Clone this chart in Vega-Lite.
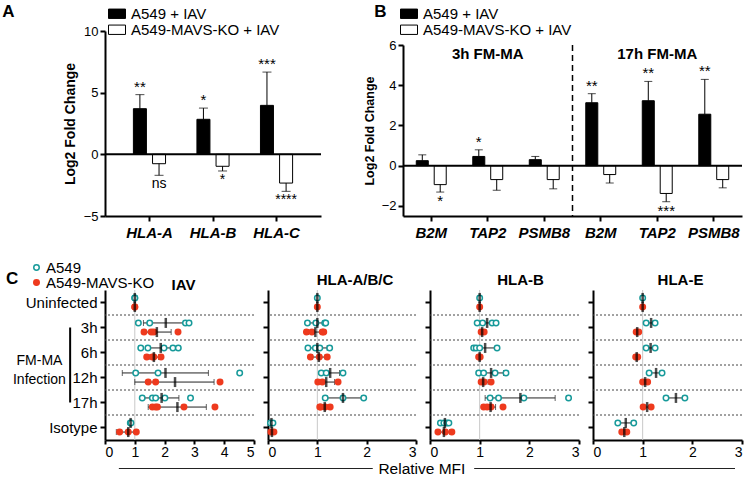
{
"$schema": "https://vega.github.io/schema/vega-lite/v6.json",
"padding": {"left": 2, "top": 3, "right": 2, "bottom": 0},
"config": {
  "font": "Liberation Sans",
  "view": {"stroke": null},
  "axis": {"domainColor": "black", "domainWidth": 2, "tickColor": "black", "tickWidth": 2, "tickSize": 5, "labelColor": "black", "titleColor": "black", "grid": false, "labelOverlap": false},
  "legend": {"labelColor": "black"},
  "title": {"color": "black"}
},
"datasets": {
  "barsA": [
    {"gene": "HLA-A", "group": "A549 + IAV", "value": 3.7, "err": 4.84, "sig": "**"},
    {"gene": "HLA-A", "group": "A549-MAVS-KO + IAV", "value": -0.76, "err": -1.7, "sig": "ns"},
    {"gene": "HLA-B", "group": "A549 + IAV", "value": 2.84, "err": 3.75, "sig": "*"},
    {"gene": "HLA-B", "group": "A549-MAVS-KO + IAV", "value": -0.97, "err": -1.35, "sig": "*"},
    {"gene": "HLA-C", "group": "A549 + IAV", "value": 3.97, "err": 6.67, "sig": "***"},
    {"gene": "HLA-C", "group": "A549-MAVS-KO + IAV", "value": -2.33, "err": -3.0, "sig": "****"}
  ],
  "barsB": [
    {"key": "3h|B2M", "group": "A549 + IAV", "value": 0.25, "err": 0.54, "sig": ""},
    {"key": "3h|B2M", "group": "A549-MAVS-KO + IAV", "value": -0.94, "err": -1.31, "sig": "*"},
    {"key": "3h|TAP2", "group": "A549 + IAV", "value": 0.46, "err": 0.79, "sig": "*"},
    {"key": "3h|TAP2", "group": "A549-MAVS-KO + IAV", "value": -0.69, "err": -1.22, "sig": ""},
    {"key": "3h|PSMB8", "group": "A549 + IAV", "value": 0.3, "err": 0.46, "sig": ""},
    {"key": "3h|PSMB8", "group": "A549-MAVS-KO + IAV", "value": -0.69, "err": -1.15, "sig": ""},
    {"key": "17h|B2M", "group": "A549 + IAV", "value": 3.13, "err": 3.58, "sig": "**"},
    {"key": "17h|B2M", "group": "A549-MAVS-KO + IAV", "value": -0.44, "err": -0.86, "sig": ""},
    {"key": "17h|TAP2", "group": "A549 + IAV", "value": 3.23, "err": 4.19, "sig": "**"},
    {"key": "17h|TAP2", "group": "A549-MAVS-KO + IAV", "value": -1.38, "err": -1.79, "sig": "***"},
    {"key": "17h|PSMB8", "group": "A549 + IAV", "value": 2.56, "err": 4.29, "sig": "**"},
    {"key": "17h|PSMB8", "group": "A549-MAVS-KO + IAV", "value": -0.69, "err": -1.1, "sig": ""}
  ],
  "points": [
    {"panel": "IAV", "row": "Uninfected", "cell": "A549", "v": 1},
    {"panel": "IAV", "row": "Uninfected", "cell": "A549", "v": 1},
    {"panel": "IAV", "row": "Uninfected", "cell": "A549-MAVS-KO", "v": 1},
    {"panel": "IAV", "row": "Uninfected", "cell": "A549-MAVS-KO", "v": 1},
    {"panel": "IAV", "row": "3h", "cell": "A549", "v": 1.12},
    {"panel": "IAV", "row": "3h", "cell": "A549", "v": 1.5},
    {"panel": "IAV", "row": "3h", "cell": "A549", "v": 2.7},
    {"panel": "IAV", "row": "3h", "cell": "A549", "v": 2.82},
    {"panel": "IAV", "row": "3h", "cell": "A549-MAVS-KO", "v": 1.31},
    {"panel": "IAV", "row": "3h", "cell": "A549-MAVS-KO", "v": 1.55},
    {"panel": "IAV", "row": "3h", "cell": "A549-MAVS-KO", "v": 1.64},
    {"panel": "IAV", "row": "3h", "cell": "A549-MAVS-KO", "v": 2.45},
    {"panel": "IAV", "row": "6h", "cell": "A549", "v": 1.2},
    {"panel": "IAV", "row": "6h", "cell": "A549", "v": 1.44},
    {"panel": "IAV", "row": "6h", "cell": "A549", "v": 1.98},
    {"panel": "IAV", "row": "6h", "cell": "A549", "v": 2.28},
    {"panel": "IAV", "row": "6h", "cell": "A549", "v": 2.46},
    {"panel": "IAV", "row": "6h", "cell": "A549-MAVS-KO", "v": 1.4},
    {"panel": "IAV", "row": "6h", "cell": "A549-MAVS-KO", "v": 1.59},
    {"panel": "IAV", "row": "6h", "cell": "A549-MAVS-KO", "v": 1.64},
    {"panel": "IAV", "row": "6h", "cell": "A549-MAVS-KO", "v": 1.88},
    {"panel": "IAV", "row": "12h", "cell": "A549", "v": 1.03},
    {"panel": "IAV", "row": "12h", "cell": "A549", "v": 1.78},
    {"panel": "IAV", "row": "12h", "cell": "A549", "v": 4.52},
    {"panel": "IAV", "row": "12h", "cell": "A549-MAVS-KO", "v": 1.45},
    {"panel": "IAV", "row": "12h", "cell": "A549-MAVS-KO", "v": 1.7},
    {"panel": "IAV", "row": "12h", "cell": "A549-MAVS-KO", "v": 3.86},
    {"panel": "IAV", "row": "17h", "cell": "A549", "v": 1.25},
    {"panel": "IAV", "row": "17h", "cell": "A549", "v": 1.59},
    {"panel": "IAV", "row": "17h", "cell": "A549", "v": 1.7},
    {"panel": "IAV", "row": "17h", "cell": "A549", "v": 2.01},
    {"panel": "IAV", "row": "17h", "cell": "A549", "v": 2.87},
    {"panel": "IAV", "row": "17h", "cell": "A549-MAVS-KO", "v": 1.59},
    {"panel": "IAV", "row": "17h", "cell": "A549-MAVS-KO", "v": 1.7},
    {"panel": "IAV", "row": "17h", "cell": "A549-MAVS-KO", "v": 1.76},
    {"panel": "IAV", "row": "17h", "cell": "A549-MAVS-KO", "v": 2.65},
    {"panel": "IAV", "row": "17h", "cell": "A549-MAVS-KO", "v": 3.69},
    {"panel": "IAV", "row": "Isotype", "cell": "A549", "v": 0.85},
    {"panel": "IAV", "row": "Isotype", "cell": "A549", "v": 0.87},
    {"panel": "IAV", "row": "Isotype", "cell": "A549-MAVS-KO", "v": 0.49},
    {"panel": "IAV", "row": "Isotype", "cell": "A549-MAVS-KO", "v": 0.78},
    {"panel": "IAV", "row": "Isotype", "cell": "A549-MAVS-KO", "v": 1.05},

    {"panel": "ABC", "row": "Uninfected", "cell": "A549", "v": 1},
    {"panel": "ABC", "row": "Uninfected", "cell": "A549-MAVS-KO", "v": 1},
    {"panel": "ABC", "row": "3h", "cell": "A549", "v": 0.8},
    {"panel": "ABC", "row": "3h", "cell": "A549", "v": 0.97},
    {"panel": "ABC", "row": "3h", "cell": "A549", "v": 1.15},
    {"panel": "ABC", "row": "3h", "cell": "A549", "v": 1.17},
    {"panel": "ABC", "row": "3h", "cell": "A549-MAVS-KO", "v": 0.78},
    {"panel": "ABC", "row": "3h", "cell": "A549-MAVS-KO", "v": 0.89},
    {"panel": "ABC", "row": "3h", "cell": "A549-MAVS-KO", "v": 1.1},
    {"panel": "ABC", "row": "3h", "cell": "A549-MAVS-KO", "v": 1.13},
    {"panel": "ABC", "row": "6h", "cell": "A549", "v": 0.81},
    {"panel": "ABC", "row": "6h", "cell": "A549", "v": 0.96},
    {"panel": "ABC", "row": "6h", "cell": "A549", "v": 1.05},
    {"panel": "ABC", "row": "6h", "cell": "A549", "v": 1.25},
    {"panel": "ABC", "row": "6h", "cell": "A549-MAVS-KO", "v": 0.86},
    {"panel": "ABC", "row": "6h", "cell": "A549-MAVS-KO", "v": 1.04},
    {"panel": "ABC", "row": "6h", "cell": "A549-MAVS-KO", "v": 1.2},
    {"panel": "ABC", "row": "12h", "cell": "A549", "v": 1.08},
    {"panel": "ABC", "row": "12h", "cell": "A549", "v": 1.18},
    {"panel": "ABC", "row": "12h", "cell": "A549", "v": 1.52},
    {"panel": "ABC", "row": "12h", "cell": "A549-MAVS-KO", "v": 1.01},
    {"panel": "ABC", "row": "12h", "cell": "A549-MAVS-KO", "v": 1.1},
    {"panel": "ABC", "row": "12h", "cell": "A549-MAVS-KO", "v": 1.42},
    {"panel": "ABC", "row": "17h", "cell": "A549", "v": 1.16},
    {"panel": "ABC", "row": "17h", "cell": "A549", "v": 1.52},
    {"panel": "ABC", "row": "17h", "cell": "A549", "v": 1.94},
    {"panel": "ABC", "row": "17h", "cell": "A549-MAVS-KO", "v": 1.05},
    {"panel": "ABC", "row": "17h", "cell": "A549-MAVS-KO", "v": 1.07},
    {"panel": "ABC", "row": "17h", "cell": "A549-MAVS-KO", "v": 1.16},
    {"panel": "ABC", "row": "17h", "cell": "A549-MAVS-KO", "v": 1.26},
    {"panel": "ABC", "row": "Isotype", "cell": "A549", "v": 0.05},
    {"panel": "ABC", "row": "Isotype", "cell": "A549", "v": 0.1},
    {"panel": "ABC", "row": "Isotype", "cell": "A549-MAVS-KO", "v": 0.06},
    {"panel": "ABC", "row": "Isotype", "cell": "A549-MAVS-KO", "v": 0.12},

    {"panel": "B", "row": "Uninfected", "cell": "A549", "v": 1},
    {"panel": "B", "row": "Uninfected", "cell": "A549-MAVS-KO", "v": 1},
    {"panel": "B", "row": "3h", "cell": "A549", "v": 0.95},
    {"panel": "B", "row": "3h", "cell": "A549", "v": 1.06},
    {"panel": "B", "row": "3h", "cell": "A549", "v": 1.25},
    {"panel": "B", "row": "3h", "cell": "A549", "v": 1.33},
    {"panel": "B", "row": "3h", "cell": "A549-MAVS-KO", "v": 1.03},
    {"panel": "B", "row": "3h", "cell": "A549-MAVS-KO", "v": 1.09},
    {"panel": "B", "row": "6h", "cell": "A549", "v": 0.88},
    {"panel": "B", "row": "6h", "cell": "A549", "v": 0.93},
    {"panel": "B", "row": "6h", "cell": "A549", "v": 1.0},
    {"panel": "B", "row": "6h", "cell": "A549", "v": 1.35},
    {"panel": "B", "row": "6h", "cell": "A549-MAVS-KO", "v": 0.98},
    {"panel": "B", "row": "6h", "cell": "A549-MAVS-KO", "v": 1.01},
    {"panel": "B", "row": "12h", "cell": "A549", "v": 0.98},
    {"panel": "B", "row": "12h", "cell": "A549", "v": 1.08},
    {"panel": "B", "row": "12h", "cell": "A549", "v": 1.31},
    {"panel": "B", "row": "12h", "cell": "A549", "v": 1.53},
    {"panel": "B", "row": "12h", "cell": "A549-MAVS-KO", "v": 1.03},
    {"panel": "B", "row": "12h", "cell": "A549-MAVS-KO", "v": 1.09},
    {"panel": "B", "row": "12h", "cell": "A549-MAVS-KO", "v": 1.23},
    {"panel": "B", "row": "17h", "cell": "A549", "v": 1.21},
    {"panel": "B", "row": "17h", "cell": "A549", "v": 1.38},
    {"panel": "B", "row": "17h", "cell": "A549", "v": 1.89},
    {"panel": "B", "row": "17h", "cell": "A549", "v": 2.79},
    {"panel": "B", "row": "17h", "cell": "A549-MAVS-KO", "v": 1.08},
    {"panel": "B", "row": "17h", "cell": "A549-MAVS-KO", "v": 1.15},
    {"panel": "B", "row": "17h", "cell": "A549-MAVS-KO", "v": 1.23},
    {"panel": "B", "row": "17h", "cell": "A549-MAVS-KO", "v": 1.47},
    {"panel": "B", "row": "Isotype", "cell": "A549", "v": 0.21},
    {"panel": "B", "row": "Isotype", "cell": "A549", "v": 0.28},
    {"panel": "B", "row": "Isotype", "cell": "A549", "v": 0.34},
    {"panel": "B", "row": "Isotype", "cell": "A549", "v": 0.38},
    {"panel": "B", "row": "Isotype", "cell": "A549-MAVS-KO", "v": 0.16},
    {"panel": "B", "row": "Isotype", "cell": "A549-MAVS-KO", "v": 0.31},
    {"panel": "B", "row": "Isotype", "cell": "A549-MAVS-KO", "v": 0.44},

    {"panel": "E", "row": "Uninfected", "cell": "A549", "v": 1},
    {"panel": "E", "row": "Uninfected", "cell": "A549-MAVS-KO", "v": 1},
    {"panel": "E", "row": "3h", "cell": "A549", "v": 1.07},
    {"panel": "E", "row": "3h", "cell": "A549", "v": 1.25},
    {"panel": "E", "row": "3h", "cell": "A549-MAVS-KO", "v": 0.87},
    {"panel": "E", "row": "3h", "cell": "A549-MAVS-KO", "v": 0.92},
    {"panel": "E", "row": "6h", "cell": "A549", "v": 1.07},
    {"panel": "E", "row": "6h", "cell": "A549", "v": 1.25},
    {"panel": "E", "row": "6h", "cell": "A549-MAVS-KO", "v": 0.86},
    {"panel": "E", "row": "6h", "cell": "A549-MAVS-KO", "v": 0.9},
    {"panel": "E", "row": "12h", "cell": "A549", "v": 1.13},
    {"panel": "E", "row": "12h", "cell": "A549", "v": 1.39},
    {"panel": "E", "row": "12h", "cell": "A549-MAVS-KO", "v": 1.0},
    {"panel": "E", "row": "12h", "cell": "A549-MAVS-KO", "v": 1.1},
    {"panel": "E", "row": "17h", "cell": "A549", "v": 1.47},
    {"panel": "E", "row": "17h", "cell": "A549", "v": 1.85},
    {"panel": "E", "row": "17h", "cell": "A549-MAVS-KO", "v": 1.01},
    {"panel": "E", "row": "17h", "cell": "A549-MAVS-KO", "v": 1.17},
    {"panel": "E", "row": "Isotype", "cell": "A549", "v": 0.5},
    {"panel": "E", "row": "Isotype", "cell": "A549", "v": 0.82},
    {"panel": "E", "row": "Isotype", "cell": "A549-MAVS-KO", "v": 0.58},
    {"panel": "E", "row": "Isotype", "cell": "A549-MAVS-KO", "v": 0.68}
  ],
  "summary": [
    {"panel": "IAV", "row": "Uninfected", "cell": "A549", "mean": 1, "lo": 1, "hi": 1},
    {"panel": "IAV", "row": "Uninfected", "cell": "A549-MAVS-KO", "mean": 1, "lo": 1, "hi": 1},
    {"panel": "IAV", "row": "3h", "cell": "A549", "mean": 2.04, "lo": 1.29, "hi": 2.76},
    {"panel": "IAV", "row": "3h", "cell": "A549-MAVS-KO", "mean": 1.74, "lo": 1.25, "hi": 2.22},
    {"panel": "IAV", "row": "6h", "cell": "A549", "mean": 1.87, "lo": 1.4, "hi": 2.3},
    {"panel": "IAV", "row": "6h", "cell": "A549-MAVS-KO", "mean": 1.64, "lo": 1.48, "hi": 1.8},
    {"panel": "IAV", "row": "12h", "cell": "A549", "mean": 2.03, "lo": 0.58, "hi": 3.47},
    {"panel": "IAV", "row": "12h", "cell": "A549-MAVS-KO", "mean": 2.35, "lo": 1.0, "hi": 3.66},
    {"panel": "IAV", "row": "17h", "cell": "A549", "mean": 1.9, "lo": 1.28, "hi": 2.48},
    {"panel": "IAV", "row": "17h", "cell": "A549-MAVS-KO", "mean": 2.43, "lo": 1.45, "hi": 3.4},
    {"panel": "IAV", "row": "Isotype", "cell": "A549", "mean": 0.86, "lo": 0.84, "hi": 0.88},
    {"panel": "IAV", "row": "Isotype", "cell": "A549-MAVS-KO", "mean": 0.78, "lo": 0.38, "hi": 1.08},
    {"panel": "ABC", "row": "Uninfected", "cell": "A549", "mean": 1, "lo": 1, "hi": 1},
    {"panel": "ABC", "row": "Uninfected", "cell": "A549-MAVS-KO", "mean": 1, "lo": 1, "hi": 1},
    {"panel": "ABC", "row": "3h", "cell": "A549", "mean": 1.0, "lo": 0.82, "hi": 1.15},
    {"panel": "ABC", "row": "3h", "cell": "A549-MAVS-KO", "mean": 0.96, "lo": 0.82, "hi": 1.1},
    {"panel": "ABC", "row": "6h", "cell": "A549", "mean": 1.0, "lo": 0.84, "hi": 1.2},
    {"panel": "ABC", "row": "6h", "cell": "A549-MAVS-KO", "mean": 1.03, "lo": 0.9, "hi": 1.16},
    {"panel": "ABC", "row": "12h", "cell": "A549", "mean": 1.26, "lo": 1.1, "hi": 1.45},
    {"panel": "ABC", "row": "12h", "cell": "A549-MAVS-KO", "mean": 1.18, "lo": 1.0, "hi": 1.35},
    {"panel": "ABC", "row": "17h", "cell": "A549", "mean": 1.52, "lo": 1.16, "hi": 1.92},
    {"panel": "ABC", "row": "17h", "cell": "A549-MAVS-KO", "mean": 1.15, "lo": 1.05, "hi": 1.25},
    {"panel": "ABC", "row": "Isotype", "cell": "A549", "mean": 0.07, "lo": 0.05, "hi": 0.09},
    {"panel": "ABC", "row": "Isotype", "cell": "A549-MAVS-KO", "mean": 0.08, "lo": 0.06, "hi": 0.1},
    {"panel": "B", "row": "Uninfected", "cell": "A549", "mean": 1, "lo": 1, "hi": 1},
    {"panel": "B", "row": "Uninfected", "cell": "A549-MAVS-KO", "mean": 1, "lo": 1, "hi": 1},
    {"panel": "B", "row": "3h", "cell": "A549", "mean": 1.15, "lo": 0.97, "hi": 1.3},
    {"panel": "B", "row": "3h", "cell": "A549-MAVS-KO", "mean": 1.05, "lo": 1.03, "hi": 1.08},
    {"panel": "B", "row": "6h", "cell": "A549", "mean": 1.11, "lo": 0.86, "hi": 1.35},
    {"panel": "B", "row": "6h", "cell": "A549-MAVS-KO", "mean": 1.0, "lo": 0.99, "hi": 1.01},
    {"panel": "B", "row": "12h", "cell": "A549", "mean": 1.23, "lo": 1.0, "hi": 1.48},
    {"panel": "B", "row": "12h", "cell": "A549-MAVS-KO", "mean": 1.07, "lo": 1.0, "hi": 1.17},
    {"panel": "B", "row": "17h", "cell": "A549", "mean": 1.82, "lo": 1.11, "hi": 2.52},
    {"panel": "B", "row": "17h", "cell": "A549-MAVS-KO", "mean": 1.22, "lo": 1.1, "hi": 1.32},
    {"panel": "B", "row": "Isotype", "cell": "A549", "mean": 0.3, "lo": 0.22, "hi": 0.37},
    {"panel": "B", "row": "Isotype", "cell": "A549-MAVS-KO", "mean": 0.28, "lo": 0.18, "hi": 0.4},
    {"panel": "E", "row": "Uninfected", "cell": "A549", "mean": 1, "lo": 1, "hi": 1},
    {"panel": "E", "row": "Uninfected", "cell": "A549-MAVS-KO", "mean": 1, "lo": 1, "hi": 1},
    {"panel": "E", "row": "3h", "cell": "A549", "mean": 1.17, "lo": 1.08, "hi": 1.25},
    {"panel": "E", "row": "3h", "cell": "A549-MAVS-KO", "mean": 0.89, "lo": 0.87, "hi": 0.91},
    {"panel": "E", "row": "6h", "cell": "A549", "mean": 1.16, "lo": 1.08, "hi": 1.24},
    {"panel": "E", "row": "6h", "cell": "A549-MAVS-KO", "mean": 0.88, "lo": 0.86, "hi": 0.9},
    {"panel": "E", "row": "12h", "cell": "A549", "mean": 1.27, "lo": 1.14, "hi": 1.38},
    {"panel": "E", "row": "12h", "cell": "A549-MAVS-KO", "mean": 1.05, "lo": 1.0, "hi": 1.1},
    {"panel": "E", "row": "17h", "cell": "A549", "mean": 1.67, "lo": 1.48, "hi": 1.85},
    {"panel": "E", "row": "17h", "cell": "A549-MAVS-KO", "mean": 1.09, "lo": 1.02, "hi": 1.16},
    {"panel": "E", "row": "Isotype", "cell": "A549", "mean": 0.66, "lo": 0.51, "hi": 0.81},
    {"panel": "E", "row": "Isotype", "cell": "A549-MAVS-KO", "mean": 0.63, "lo": 0.6, "hi": 0.66}
  ],
  "seps": [{"row": "Uninfected"}, {"row": "3h"}, {"row": "6h"}, {"row": "12h"}, {"row": "17h"}]
},
"vconcat": [
  {
    "hconcat": [
      {
        "width": 216, "height": 185,
        "title": {"text": "A", "anchor": "start", "fontSize": 17, "fontWeight": "bold", "dx": -61, "dy": 19},
        "data": {"name": "barsA"},
        "layer": [
          {
            "mark": {"type": "bar", "stroke": "black", "strokeWidth": 1},
            "encoding": {
              "x": {"field": "gene", "type": "nominal", "sort": null, "title": null, "scale": {"paddingInner": 0, "paddingOuter": 0.2},
                    "axis": {"labelAngle": 0, "labelFontSize": 15, "labelFontWeight": "bold", "labelFontStyle": "italic", "labelPadding": 4}},
              "xOffset": {"field": "group", "type": "nominal", "sort": null, "scale": {"paddingInner": 0.32, "paddingOuter": 0.82}},
              "y": {"field": "value", "type": "quantitative", "title": "Log2 Fold Change", "scale": {"domain": [-5, 10], "nice": false},
                    "axis": {"title": "Log2 Fold Change", "values": [-5, 0, 5, 10], "labelFontSize": 13, "titleFontSize": 14, "titleFontWeight": "bold", "titlePadding": 6}},
              "fill": {"field": "group", "type": "nominal", "sort": null, "scale": {"domain": ["A549 + IAV", "A549-MAVS-KO + IAV"], "range": ["black", "white"]},
                       "legend": {"title": null, "orient": "none", "legendX": 3, "legendY": -25, "symbolType": "M-1,-0.55H1V0.55H-1Z", "symbolSize": 289, "symbolStrokeColor": "black", "symbolStrokeWidth": 1, "labelFontSize": 15, "labelOffset": 5, "rowPadding": 0, "clipHeight": 15.5}}
            }
          },
          {
            "mark": {"type": "rule", "color": "black", "strokeWidth": 1},
            "encoding": {
              "x": {"field": "gene", "type": "nominal", "sort": null, "title": null},
              "xOffset": {"field": "group", "type": "nominal", "sort": null},
              "y": {"field": "value", "type": "quantitative", "title": "Log2 Fold Change"},
              "y2": {"field": "err"}
            }
          },
          {
            "mark": {"type": "tick", "color": "black", "size": 9, "thickness": 1},
            "encoding": {
              "x": {"field": "gene", "type": "nominal", "sort": null, "title": null},
              "xOffset": {"field": "group", "type": "nominal", "sort": null},
              "y": {"field": "err", "type": "quantitative", "title": "Log2 Fold Change"}
            }
          },
          {
            "data": {"values": [{}]},
            "mark": {"type": "rule", "color": "black", "strokeWidth": 2},
            "encoding": {"y": {"datum": 0, "type": "quantitative", "title": "Log2 Fold Change"}}
          },
          {
            "transform": [{"filter": "datum.sig != '' && datum.value > 0"}],
            "mark": {"type": "text", "fontSize": 15, "baseline": "bottom", "dy": 0},
            "encoding": {
              "x": {"field": "gene", "type": "nominal", "sort": null, "title": null},
              "xOffset": {"field": "group", "type": "nominal", "sort": null},
              "y": {"field": "err", "type": "quantitative", "title": "Log2 Fold Change"},
              "text": {"field": "sig"}
            }
          },
          {
            "transform": [{"filter": "datum.sig != '' && datum.value < 0"}],
            "mark": {"type": "text", "fontSize": 14, "baseline": "top", "dy": 2},
            "encoding": {
              "x": {"field": "gene", "type": "nominal", "sort": null, "title": null},
              "xOffset": {"field": "group", "type": "nominal", "sort": null},
              "y": {"field": "err", "type": "quantitative", "title": "Log2 Fold Change"},
              "text": {"field": "sig"}
            }
          }
        ]
      },
      {
        "width": 339, "height": 185,
        "title": {"text": "B", "anchor": "start", "fontSize": 17, "fontWeight": "bold", "dx": 11, "dy": 19},
        "data": {"name": "barsB"},
        "layer": [
          {
            "mark": {"type": "bar", "stroke": "black", "strokeWidth": 1},
            "encoding": {
              "x": {"field": "key", "type": "nominal", "title": null, "scale": {"domain": ["3h|B2M", "3h|TAP2", "3h|PSMB8", "17h|B2M", "17h|TAP2", "17h|PSMB8"], "paddingInner": 0, "paddingOuter": 0},
                    "axis": {"labelAngle": 0, "labelFontSize": 15, "labelFontWeight": "bold", "labelFontStyle": "italic", "labelPadding": 4, "labelExpr": "split(datum.label, '|')[1]"}},
              "xOffset": {"field": "group", "type": "nominal", "sort": null, "scale": {"paddingInner": 0.33, "paddingOuter": 0.74}},
              "y": {"field": "value", "type": "quantitative", "title": "Log2 Fold Change", "scale": {"domain": [-2.5, 6], "nice": false, "range": [185, 14]},
                    "axis": {"title": "Log2 Fold Change", "values": [-2, 0, 2, 4, 6], "labelFontSize": 13, "titleFontSize": 12.5, "titleFontWeight": "bold", "titlePadding": 5}},
              "fill": {"field": "group", "type": "nominal", "sort": null, "scale": {"domain": ["A549 + IAV", "A549-MAVS-KO + IAV"], "range": ["black", "white"]},
                       "legend": {"title": null, "orient": "none", "legendX": -3, "legendY": -25, "symbolType": "M-1,-0.55H1V0.55H-1Z", "symbolSize": 289, "symbolStrokeColor": "black", "symbolStrokeWidth": 1, "labelFontSize": 15, "labelOffset": 5, "rowPadding": 0, "clipHeight": 15.5}}
            }
          },
          {
            "mark": {"type": "rule", "color": "black", "strokeWidth": 1},
            "encoding": {
              "x": {"field": "key", "type": "nominal", "title": null},
              "xOffset": {"field": "group", "type": "nominal", "sort": null},
              "y": {"field": "value", "type": "quantitative", "title": "Log2 Fold Change"},
              "y2": {"field": "err"}
            }
          },
          {
            "mark": {"type": "tick", "color": "black", "size": 8, "thickness": 1},
            "encoding": {
              "x": {"field": "key", "type": "nominal", "title": null},
              "xOffset": {"field": "group", "type": "nominal", "sort": null},
              "y": {"field": "err", "type": "quantitative", "title": "Log2 Fold Change"}
            }
          },
          {
            "data": {"values": [{}]},
            "mark": {"type": "rule", "color": "black", "strokeWidth": 2},
            "encoding": {"y": {"datum": 0, "type": "quantitative", "title": "Log2 Fold Change"}}
          },
          {
            "data": {"values": [{"key": "17h|B2M"}]},
            "mark": {"type": "rule", "color": "black", "strokeWidth": 1.5, "strokeDash": [6, 4]},
            "encoding": {
              "x": {"field": "key", "type": "nominal", "title": null, "bandPosition": 0},
              "y": {"datum": 6, "type": "quantitative", "title": "Log2 Fold Change"},
              "y2": {"datum": -2.5}
            }
          },
          {
            "data": {"values": [{"key": "3h|TAP2", "label": "3h FM-MA"}, {"key": "17h|TAP2", "label": "17h FM-MA"}]},
            "mark": {"type": "text", "fontSize": 15, "fontWeight": "bold", "baseline": "middle"},
            "encoding": {
              "x": {"field": "key", "type": "nominal", "title": null},
              "y": {"datum": 5.55, "type": "quantitative", "title": "Log2 Fold Change"},
              "text": {"field": "label"}
            }
          },
          {
            "transform": [{"filter": "datum.sig != '' && datum.value > 0"}],
            "mark": {"type": "text", "fontSize": 15, "baseline": "bottom", "dy": 0},
            "encoding": {
              "x": {"field": "key", "type": "nominal", "title": null},
              "xOffset": {"field": "group", "type": "nominal", "sort": null},
              "y": {"field": "err", "type": "quantitative", "title": "Log2 Fold Change"},
              "text": {"field": "sig"}
            }
          },
          {
            "transform": [{"filter": "datum.sig != '' && datum.value < 0"}],
            "mark": {"type": "text", "fontSize": 15, "baseline": "top", "dy": 2},
            "encoding": {
              "x": {"field": "key", "type": "nominal", "title": null},
              "xOffset": {"field": "group", "type": "nominal", "sort": null},
              "y": {"field": "err", "type": "quantitative", "title": "Log2 Fold Change"},
              "text": {"field": "sig"}
            }
          }
        ]
      }
    ],
    "spacing": 41,
    "resolve": {"scale": {"fill": "independent", "x": "independent", "y": "independent", "xOffset": "independent"}, "legend": {"fill": "independent"}}
  },
  {
    "vconcat": [
      {
        "title": {"text": "C", "anchor": "start", "fontSize": 17, "fontWeight": "bold", "dx": -7, "dy": 31},
        "hconcat": [
          {
            "width": 149, "height": 150,
            "title": {"text": "IAV", "fontSize": 15, "fontWeight": "bold", "dx": 4, "offset": 0, "dy": 32},
            "layer": [
              {
                "data": {"values": [{}]},
                "mark": {"type": "rule", "color": "#c8c8c8", "strokeWidth": 1},
                "encoding": {"x": {"datum": 1, "type": "quantitative", "title": null, "scale": {"domain": [0, 5], "nice": false}, "axis": {"values": [0, 1, 2, 3, 4, 5], "tickCount": 6, "labelFontSize": 14, "labelPadding": 1, "tickSize": 4, "labelOverlap": false}}}
              },
              {
                "data": {"name": "seps"},
                "mark": {"type": "rule", "color": "#444444", "strokeWidth": 1, "strokeDash": [2, 2]},
                "encoding": {"y": {"field": "row", "type": "nominal", "title": null, "bandPosition": 1, "scale": {"domain": ["Uninfected", "3h", "6h", "12h", "17h", "Isotype"], "paddingInner": 0, "paddingOuter": 0}, "axis": {"labelFontSize": 15, "labelPadding": 3}}}
              },
              {
                "data": {"values": [{"row": "6h"}]},
                "mark": {"type": "text", "fontSize": 14, "lineHeight": 19, "align": "center", "baseline": "middle", "dy": -4},
                "encoding": {"x": {"datum": -2.2, "type": "quantitative", "title": null, "axis": {"values": [0, 1, 2, 3, 4, 5], "tickCount": 6, "labelFontSize": 14, "labelPadding": 1, "tickSize": 4, "labelOverlap": false}}, "y": {"field": "row", "type": "nominal", "title": null, "bandPosition": 1}, "text": {"value": ["FM-MA", "Infection"]}}
              },
              {
                "data": {"values": [{}]},
                "mark": {"type": "rule", "color": "black", "strokeWidth": 2},
                "encoding": {"x": {"datum": -1.17, "type": "quantitative", "title": null, "axis": {"values": [0, 1, 2, 3, 4, 5], "tickCount": 6, "labelFontSize": 14, "labelPadding": 1, "tickSize": 4, "labelOverlap": false}}, "y": {"datum": "3h", "type": "nominal"}, "y2": {"datum": "17h"}}
              },
              {
                "data": {"name": "summary"},
                "transform": [{"filter": "datum.panel == 'IAV'"}],
                "mark": {"type": "rule", "color": "#222222", "strokeWidth": 1},
                "encoding": {"x": {"field": "lo", "type": "quantitative", "title": null, "axis": {"values": [0, 1, 2, 3, 4, 5], "tickCount": 6, "labelFontSize": 14, "labelPadding": 1, "tickSize": 4, "labelOverlap": false}}, "x2": {"field": "hi"}, "y": {"field": "row", "type": "nominal", "title": null}, "yOffset": {"field": "cell", "type": "nominal", "scale": {"domain": ["A549", "A549-MAVS-KO"], "paddingInner": 0, "paddingOuter": 0.37}}}
              },
              {
                "data": {"name": "summary"},
                "transform": [{"filter": "datum.panel == 'IAV' && datum.hi > datum.lo"}, {"fold": ["lo", "hi"], "as": ["end", "val"]}],
                "mark": {"type": "tick", "color": "#222222", "size": 6, "thickness": 1},
                "encoding": {"x": {"field": "val", "type": "quantitative", "title": null, "axis": {"values": [0, 1, 2, 3, 4, 5], "tickCount": 6, "labelFontSize": 14, "labelPadding": 1, "tickSize": 4, "labelOverlap": false}}, "y": {"field": "row", "type": "nominal", "title": null}, "yOffset": {"field": "cell", "type": "nominal"}}
              },
              {
                "data": {"name": "points"},
                "transform": [{"filter": "datum.panel == 'IAV'"}],
                "mark": {"type": "point", "shape": "circle", "filled": true, "size": 30, "strokeWidth": 1.5, "opacity": 1},
                "encoding": {
                  "x": {"field": "v", "type": "quantitative", "title": null, "axis": {"values": [0, 1, 2, 3, 4, 5], "tickCount": 6, "labelFontSize": 14, "labelPadding": 1, "tickSize": 4, "labelOverlap": false}},
                  "y": {"field": "row", "type": "nominal", "title": null},
                  "yOffset": {"field": "cell", "type": "nominal"},
                  "fill": {"field": "cell", "type": "nominal", "scale": {"domain": ["A549", "A549-MAVS-KO"], "range": ["white", "#ee3a1e"]}, "legend": {"title": null, "orient": "none", "legendX": -76, "legendY": -29, "labelFontSize": 15, "labelOffset": 2, "symbolSize": 30, "symbolStrokeWidth": 1.5, "rowPadding": -3, "clipHeight": 13}},
                  "stroke": {"field": "cell", "type": "nominal", "scale": {"domain": ["A549", "A549-MAVS-KO"], "range": ["#179a9a", "#ee3a1e"]}, "legend": {"title": null, "orient": "none", "legendX": -76, "legendY": -29, "labelFontSize": 15, "labelOffset": 2, "symbolSize": 30, "symbolStrokeWidth": 1.5, "rowPadding": -3, "clipHeight": 13}}
                }
              },
              {
                "data": {"name": "summary"},
                "transform": [{"filter": "datum.panel == 'IAV'"}],
                "mark": {"type": "tick", "color": "black", "size": 10, "thickness": 2.5},
                "encoding": {"x": {"field": "mean", "type": "quantitative", "title": null, "axis": {"values": [0, 1, 2, 3, 4, 5], "tickCount": 6, "labelFontSize": 14, "labelPadding": 1, "tickSize": 4, "labelOverlap": false}}, "y": {"field": "row", "type": "nominal", "title": null}, "yOffset": {"field": "cell", "type": "nominal"}}
              }
            ]
          },
          {
            "width": 148, "height": 150,
            "title": {"text": "HLA-A/B/C", "fontSize": 15, "fontWeight": "bold", "dx": 13, "offset": 2},
            "layer": [
              {
                "data": {"values": [{}]},
                "mark": {"type": "rule", "color": "#c8c8c8", "strokeWidth": 1},
                "encoding": {"x": {"datum": 1, "type": "quantitative", "title": null, "scale": {"domain": [0, 3], "nice": false}, "axis": {"values": [0, 1, 2, 3], "labelFontSize": 14, "labelPadding": 1, "tickSize": 4, "labelOverlap": false}}}
              },
              {
                "data": {"name": "seps"},
                "mark": {"type": "rule", "color": "#444444", "strokeWidth": 1, "strokeDash": [2, 2]},
                "encoding": {"y": {"field": "row", "type": "nominal", "title": null, "bandPosition": 1, "scale": {"domain": ["Uninfected", "3h", "6h", "12h", "17h", "Isotype"], "paddingInner": 0, "paddingOuter": 0}, "axis": {"labels": false}}}
              },
              {
                "data": {"name": "summary"},
                "transform": [{"filter": "datum.panel == 'ABC'"}],
                "mark": {"type": "rule", "color": "#222222", "strokeWidth": 1},
                "encoding": {"x": {"field": "lo", "type": "quantitative", "title": null}, "x2": {"field": "hi"}, "y": {"field": "row", "type": "nominal", "title": null}, "yOffset": {"field": "cell", "type": "nominal", "scale": {"domain": ["A549", "A549-MAVS-KO"], "paddingInner": 0, "paddingOuter": 0.37}}}
              },
              {
                "data": {"name": "summary"},
                "transform": [{"filter": "datum.panel == 'ABC' && datum.hi > datum.lo"}, {"fold": ["lo", "hi"], "as": ["end", "val"]}],
                "mark": {"type": "tick", "color": "#222222", "size": 6, "thickness": 1},
                "encoding": {"x": {"field": "val", "type": "quantitative", "title": null}, "y": {"field": "row", "type": "nominal", "title": null}, "yOffset": {"field": "cell", "type": "nominal"}}
              },
              {
                "data": {"name": "points"},
                "transform": [{"filter": "datum.panel == 'ABC'"}],
                "mark": {"type": "point", "shape": "circle", "filled": true, "size": 30, "strokeWidth": 1.5, "opacity": 1},
                "encoding": {
                  "x": {"field": "v", "type": "quantitative", "title": null},
                  "y": {"field": "row", "type": "nominal", "title": null},
                  "yOffset": {"field": "cell", "type": "nominal"},
                  "fill": {"field": "cell", "type": "nominal", "scale": {"domain": ["A549", "A549-MAVS-KO"], "range": ["white", "#ee3a1e"]}, "legend": null},
                  "stroke": {"field": "cell", "type": "nominal", "scale": {"domain": ["A549", "A549-MAVS-KO"], "range": ["#179a9a", "#ee3a1e"]}, "legend": null}
                }
              },
              {
                "data": {"name": "summary"},
                "transform": [{"filter": "datum.panel == 'ABC'"}],
                "mark": {"type": "tick", "color": "black", "size": 10, "thickness": 2.5},
                "encoding": {"x": {"field": "mean", "type": "quantitative", "title": null}, "y": {"field": "row", "type": "nominal", "title": null}, "yOffset": {"field": "cell", "type": "nominal"}}
              }
            ]
          },
          {
            "width": 149, "height": 150,
            "title": {"text": "HLA-B", "fontSize": 15, "fontWeight": "bold", "dx": 16, "offset": 2},
            "layer": [
              {
                "data": {"values": [{}]},
                "mark": {"type": "rule", "color": "#c8c8c8", "strokeWidth": 1},
                "encoding": {"x": {"datum": 1, "type": "quantitative", "title": null, "scale": {"domain": [0, 3], "nice": false}, "axis": {"values": [0, 1, 2, 3], "labelFontSize": 14, "labelPadding": 1, "tickSize": 4, "labelOverlap": false}}}
              },
              {
                "data": {"name": "seps"},
                "mark": {"type": "rule", "color": "#444444", "strokeWidth": 1, "strokeDash": [2, 2]},
                "encoding": {"y": {"field": "row", "type": "nominal", "title": null, "bandPosition": 1, "scale": {"domain": ["Uninfected", "3h", "6h", "12h", "17h", "Isotype"], "paddingInner": 0, "paddingOuter": 0}, "axis": {"labels": false}}}
              },
              {
                "data": {"name": "summary"},
                "transform": [{"filter": "datum.panel == 'B'"}],
                "mark": {"type": "rule", "color": "#222222", "strokeWidth": 1},
                "encoding": {"x": {"field": "lo", "type": "quantitative", "title": null}, "x2": {"field": "hi"}, "y": {"field": "row", "type": "nominal", "title": null}, "yOffset": {"field": "cell", "type": "nominal", "scale": {"domain": ["A549", "A549-MAVS-KO"], "paddingInner": 0, "paddingOuter": 0.37}}}
              },
              {
                "data": {"name": "summary"},
                "transform": [{"filter": "datum.panel == 'B' && datum.hi > datum.lo"}, {"fold": ["lo", "hi"], "as": ["end", "val"]}],
                "mark": {"type": "tick", "color": "#222222", "size": 6, "thickness": 1},
                "encoding": {"x": {"field": "val", "type": "quantitative", "title": null}, "y": {"field": "row", "type": "nominal", "title": null}, "yOffset": {"field": "cell", "type": "nominal"}}
              },
              {
                "data": {"name": "points"},
                "transform": [{"filter": "datum.panel == 'B'"}],
                "mark": {"type": "point", "shape": "circle", "filled": true, "size": 30, "strokeWidth": 1.5, "opacity": 1},
                "encoding": {
                  "x": {"field": "v", "type": "quantitative", "title": null},
                  "y": {"field": "row", "type": "nominal", "title": null},
                  "yOffset": {"field": "cell", "type": "nominal"},
                  "fill": {"field": "cell", "type": "nominal", "scale": {"domain": ["A549", "A549-MAVS-KO"], "range": ["white", "#ee3a1e"]}, "legend": null},
                  "stroke": {"field": "cell", "type": "nominal", "scale": {"domain": ["A549", "A549-MAVS-KO"], "range": ["#179a9a", "#ee3a1e"]}, "legend": null}
                }
              },
              {
                "data": {"name": "summary"},
                "transform": [{"filter": "datum.panel == 'B'"}],
                "mark": {"type": "tick", "color": "black", "size": 10, "thickness": 2.5},
                "encoding": {"x": {"field": "mean", "type": "quantitative", "title": null}, "y": {"field": "row", "type": "nominal", "title": null}, "yOffset": {"field": "cell", "type": "nominal"}}
              }
            ]
          },
          {
            "width": 149, "height": 150,
            "title": {"text": "HLA-E", "fontSize": 15, "fontWeight": "bold", "dx": 13, "offset": 2},
            "layer": [
              {
                "data": {"values": [{}]},
                "mark": {"type": "rule", "color": "#c8c8c8", "strokeWidth": 1},
                "encoding": {"x": {"datum": 1, "type": "quantitative", "title": null, "scale": {"domain": [0, 3], "nice": false}, "axis": {"values": [0, 1, 2, 3], "labelFontSize": 14, "labelPadding": 1, "tickSize": 4, "labelOverlap": false}}}
              },
              {
                "data": {"name": "seps"},
                "mark": {"type": "rule", "color": "#444444", "strokeWidth": 1, "strokeDash": [2, 2]},
                "encoding": {"y": {"field": "row", "type": "nominal", "title": null, "bandPosition": 1, "scale": {"domain": ["Uninfected", "3h", "6h", "12h", "17h", "Isotype"], "paddingInner": 0, "paddingOuter": 0}, "axis": {"labels": false}}}
              },
              {
                "data": {"name": "summary"},
                "transform": [{"filter": "datum.panel == 'E'"}],
                "mark": {"type": "rule", "color": "#222222", "strokeWidth": 1},
                "encoding": {"x": {"field": "lo", "type": "quantitative", "title": null}, "x2": {"field": "hi"}, "y": {"field": "row", "type": "nominal", "title": null}, "yOffset": {"field": "cell", "type": "nominal", "scale": {"domain": ["A549", "A549-MAVS-KO"], "paddingInner": 0, "paddingOuter": 0.37}}}
              },
              {
                "data": {"name": "summary"},
                "transform": [{"filter": "datum.panel == 'E' && datum.hi > datum.lo"}, {"fold": ["lo", "hi"], "as": ["end", "val"]}],
                "mark": {"type": "tick", "color": "#222222", "size": 6, "thickness": 1},
                "encoding": {"x": {"field": "val", "type": "quantitative", "title": null}, "y": {"field": "row", "type": "nominal", "title": null}, "yOffset": {"field": "cell", "type": "nominal"}}
              },
              {
                "data": {"name": "points"},
                "transform": [{"filter": "datum.panel == 'E'"}],
                "mark": {"type": "point", "shape": "circle", "filled": true, "size": 30, "strokeWidth": 1.5, "opacity": 1},
                "encoding": {
                  "x": {"field": "v", "type": "quantitative", "title": null},
                  "y": {"field": "row", "type": "nominal", "title": null},
                  "yOffset": {"field": "cell", "type": "nominal"},
                  "fill": {"field": "cell", "type": "nominal", "scale": {"domain": ["A549", "A549-MAVS-KO"], "range": ["white", "#ee3a1e"]}, "legend": null},
                  "stroke": {"field": "cell", "type": "nominal", "scale": {"domain": ["A549", "A549-MAVS-KO"], "range": ["#179a9a", "#ee3a1e"]}, "legend": null}
                }
              },
              {
                "data": {"name": "summary"},
                "transform": [{"filter": "datum.panel == 'E'"}],
                "mark": {"type": "tick", "color": "black", "size": 10, "thickness": 2.5},
                "encoding": {"x": {"field": "mean", "type": "quantitative", "title": null}, "y": {"field": "row", "type": "nominal", "title": null}, "yOffset": {"field": "cell", "type": "nominal"}}
              }
            ]
          }
        ],
        "spacing": 7,
        "resolve": {"scale": {"x": "independent", "y": "independent", "yOffset": "independent", "fill": "independent", "stroke": "independent"}, "legend": {"fill": "independent", "stroke": "independent"}}
      },
      {
        "width": 630, "height": 1,
        "data": {"values": [{}]},
        "layer": [
          {
            "mark": {"type": "rule", "color": "#222222", "strokeWidth": 1},
            "encoding": {"x": {"datum": 0.022, "type": "quantitative", "scale": {"domain": [0, 1], "nice": false}, "axis": null}, "x2": {"datum": 0.425}, "y": {"datum": 0.5, "type": "quantitative", "scale": {"domain": [0, 1]}, "axis": null}}
          },
          {
            "mark": {"type": "rule", "color": "#222222", "strokeWidth": 1},
            "encoding": {"x": {"datum": 0.586, "type": "quantitative"}, "x2": {"datum": 1}, "y": {"datum": 0.5, "type": "quantitative"}}
          },
          {
            "mark": {"type": "text", "fontSize": 15.5, "baseline": "middle"},
            "encoding": {"x": {"datum": 0.503, "type": "quantitative"}, "y": {"datum": 0.5, "type": "quantitative"}, "text": {"value": "Relative MFI"}}
          }
        ]
      }
    ],
    "spacing": 2
  }
],
"spacing": 21
}
